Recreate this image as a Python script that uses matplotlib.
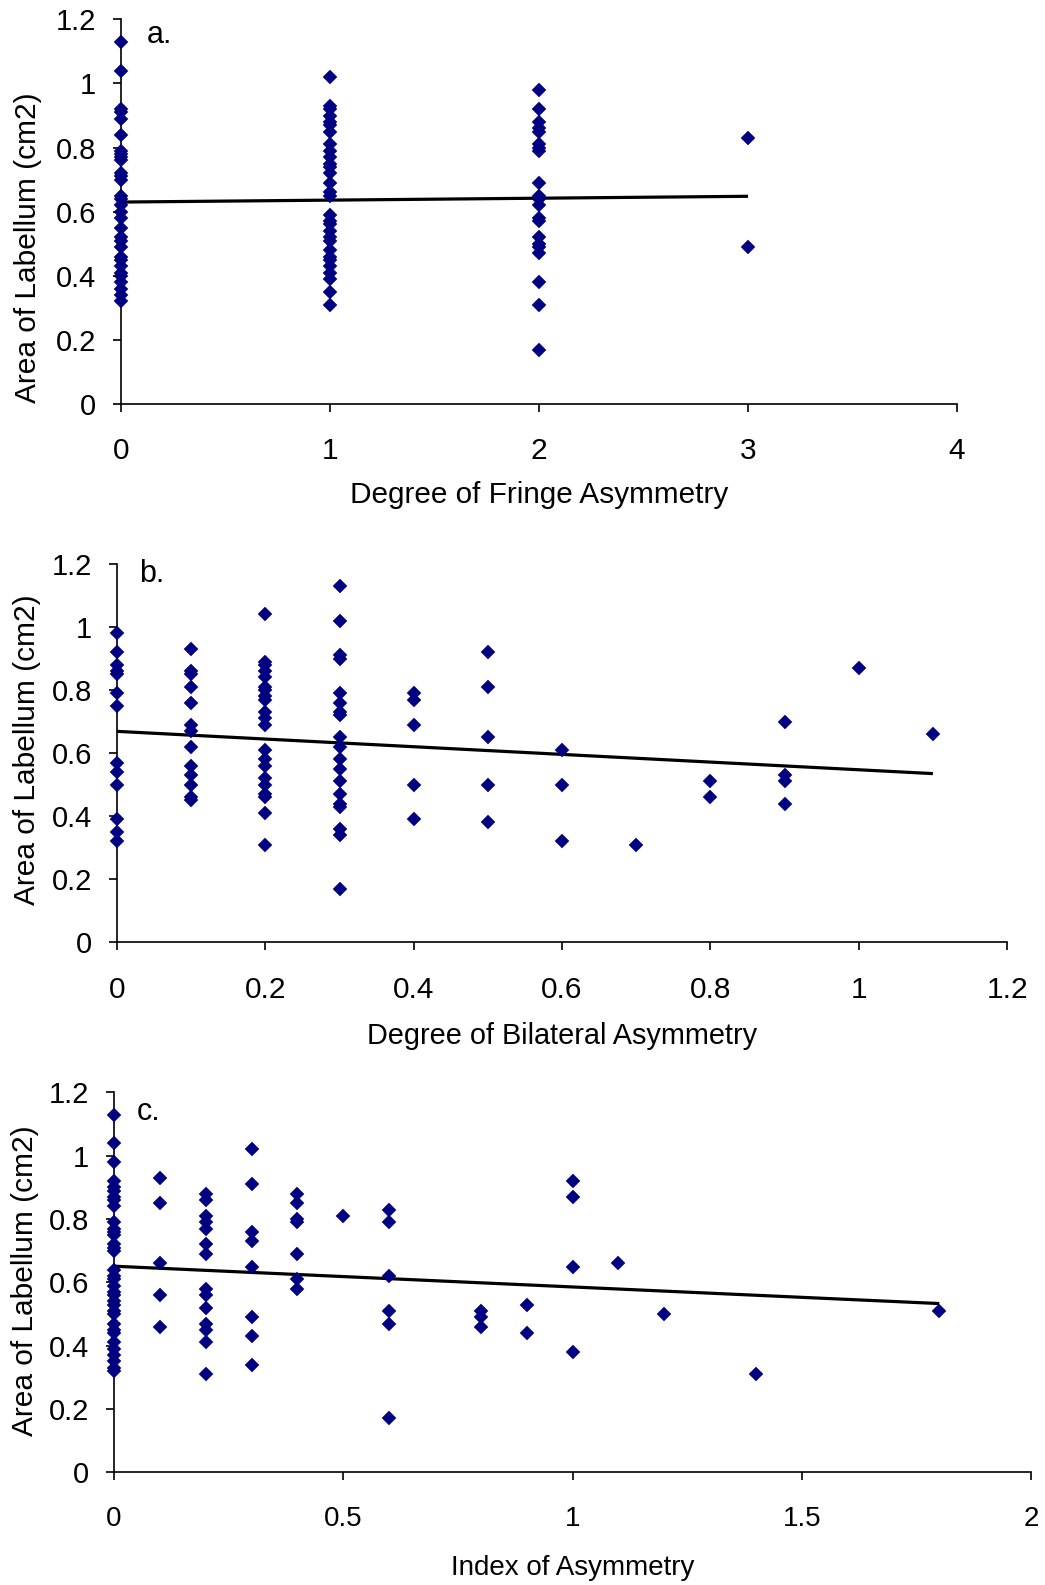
import matplotlib
matplotlib.use("Agg")
import matplotlib.pyplot as plt
from matplotlib.ticker import FixedLocator, FixedFormatter

plt.rcParams['font.family'] = ['Liberation Sans', 'DejaVu Sans']

# ---------------- data ----------------
# Panel a: Degree of Fringe Asymmetry
a_x0 = [1.13, 1.04, 0.92, 0.91, 0.89, 0.84, 0.79, 0.78, 0.77, 0.76, 0.72, 0.71, 0.70,
        0.65, 0.64, 0.62, 0.60, 0.58, 0.55, 0.52, 0.51, 0.49, 0.46, 0.45, 0.43,
        0.41, 0.40, 0.38, 0.36, 0.34, 0.32]
a_x1 = [1.02, 0.93, 0.92, 0.90, 0.88, 0.87, 0.85, 0.81, 0.79, 0.77, 0.75, 0.74, 0.72,
        0.69, 0.66, 0.65, 0.59, 0.57, 0.56, 0.54, 0.52, 0.51, 0.48, 0.46, 0.45,
        0.43, 0.41, 0.39, 0.35, 0.31]
a_x2 = [0.98, 0.92, 0.88, 0.86, 0.85, 0.81, 0.80, 0.79, 0.69, 0.65, 0.64, 0.62, 0.58,
        0.57, 0.52, 0.50, 0.49, 0.47, 0.38, 0.31, 0.17]
a_x3 = [0.83, 0.49]
a_groups = [0, 1, 2, 3]
a_trend_x = [0, 3]
a_trend_y = [0.630, 0.648]
a_xticks = [0, 1, 2, 3, 4]
a_xticklabels = ['0', '1', '2', '3', '4']

# Panel b: Degree of Bilateral Asymmetry
b_groups = [0.0, 0.1, 0.2, 0.3, 0.4, 0.5, 0.6, 0.7, 0.8, 0.9, 1.0, 1.1]
b_values = [
    [0.98, 0.92, 0.88, 0.86, 0.85, 0.79, 0.75, 0.57, 0.54, 0.50, 0.39, 0.35, 0.32],
    [0.93, 0.86, 0.85, 0.81, 0.76, 0.69, 0.67, 0.62, 0.56, 0.53, 0.50, 0.46, 0.45],
    [1.04, 0.89, 0.88, 0.86, 0.84, 0.81, 0.80, 0.78, 0.77, 0.73, 0.71, 0.69, 0.61,
     0.58, 0.56, 0.52, 0.50, 0.47, 0.46, 0.41, 0.31],
    [1.13, 1.02, 0.91, 0.90, 0.79, 0.76, 0.73, 0.72, 0.65, 0.62, 0.58, 0.55, 0.51,
     0.47, 0.44, 0.43, 0.36, 0.34, 0.17],
    [0.79, 0.77, 0.69, 0.50, 0.39],
    [0.92, 0.81, 0.65, 0.50, 0.38],
    [0.61, 0.50, 0.32],
    [0.31],
    [0.51, 0.46],
    [0.70, 0.53, 0.51, 0.44],
    [0.87],
    [0.66],
]
b_trend_x = [0, 1.1]
b_trend_y = [0.669, 0.535]
b_xticks = [0, 0.2, 0.4, 0.6, 0.8, 1.0, 1.2]
b_xticklabels = ['0', '0.2', '0.4', '0.6', '0.8', '1', '1.2']

# Panel c: Index of Asymmetry
c_groups = [0.0, 0.1, 0.2, 0.3, 0.4, 0.5, 0.6, 0.8, 0.9, 1.0, 1.1, 1.2, 1.4, 1.8]
c_values = [
    [1.13, 1.04, 0.98, 0.92, 0.90, 0.89, 0.87, 0.86, 0.84, 0.79, 0.77, 0.76, 0.75,
     0.72, 0.71, 0.70, 0.64, 0.62, 0.61, 0.59, 0.57, 0.56, 0.54, 0.53, 0.51, 0.50,
     0.47, 0.45, 0.44, 0.41, 0.39, 0.37, 0.35, 0.33, 0.32],
    [0.93, 0.85, 0.66, 0.56, 0.46],
    [0.88, 0.86, 0.81, 0.79, 0.77, 0.72, 0.69, 0.58, 0.56, 0.52, 0.47, 0.45, 0.41, 0.31],
    [1.02, 0.91, 0.76, 0.73, 0.65, 0.49, 0.43, 0.34],
    [0.88, 0.85, 0.80, 0.79, 0.69, 0.61, 0.58],
    [0.81],
    [0.83, 0.79, 0.62, 0.51, 0.47, 0.17],
    [0.51, 0.49, 0.46],
    [0.53, 0.44],
    [0.92, 0.87, 0.65, 0.38],
    [0.66],
    [0.50],
    [0.31],
    [0.51],
]
c_trend_x = [0, 1.8]
c_trend_y = [0.651, 0.533]
c_xticks = [0, 0.5, 1.0, 1.5, 2.0]
c_xticklabels = ['0', '0.5', '1', '1.5', '2']

y_ticks = [0, 0.2, 0.4, 0.6, 0.8, 1.0, 1.2]
y_ticklabels = ['0', '0.2', '0.4', '0.6', '0.8', '1', '1.2']

ylabel_text = 'Area of Labellum (cm2)'
xlabels = ['Degree of Fringe Asymmetry', 'Degree of Bilateral Asymmetry', 'Index of Asymmetry']
panel_tags = ['a.', 'b.', 'c.']

# ---------------- figure ----------------
fig = plt.figure(figsize=(10.45, 15.85), dpi=100)

positions = [
    [0.1158, 0.7451, 0.8000, 0.2427],
    [0.1120, 0.4055, 0.8517, 0.2387],
    [0.1091, 0.0711, 0.8775, 0.2397],
]
xlims = [(0, 4), (0, 1.2), (0, 2)]
xtick_sets = [(a_xticks, a_xticklabels), (b_xticks, b_xticklabels), (c_xticks, c_xticklabels)]
ylabel_pos = [(-0.094, 0.406), (-0.085, 0.508), (-0.082, 0.505)]
xlabel_y = [-0.20, -0.211, -0.218]
tag_pos = [(0.031, 0.958), (0.025, 0.973), (0.025, 0.949)]
xtick_fs = [21.5, 21.5, 20]
xlabel_fs = [21.4, 20.8, 20]

a_groups_vals = [a_x0, a_x1, a_x2, a_x3]
datasets = [
    (a_groups, a_groups_vals, a_trend_x, a_trend_y),
    (b_groups, b_values, b_trend_x, b_trend_y),
    (c_groups, c_values, c_trend_x, c_trend_y),
]

navy = '#000080'
for i, (groups, vals, tx, ty) in enumerate(datasets):
    ax = fig.add_axes(positions[i])
    xs, ys = [], []
    for g, v in zip(groups, vals):
        xs.extend([g] * len(v))
        ys.extend(v)
    ax.plot(tx, ty, color='black', lw=2.3, zorder=2, solid_capstyle='butt')
    ax.plot(xs, ys, linestyle='none', marker='D', ms=6.8, color=navy,
            mec=navy, mew=0.3, zorder=3, clip_on=False)
    ax.set_xlim(*xlims[i])
    ax.set_ylim(0, 1.2)
    xt, xl = xtick_sets[i]
    ax.xaxis.set_major_locator(FixedLocator(xt))
    ax.xaxis.set_major_formatter(FixedFormatter(xl))
    ax.yaxis.set_major_locator(FixedLocator(y_ticks))
    ax.yaxis.set_major_formatter(FixedFormatter(y_ticklabels))
    for s in ['top', 'right']:
        ax.spines[s].set_visible(False)
    for s in ['left', 'bottom']:
        ax.spines[s].set_linewidth(1.2)
        ax.spines[s].set_color('black')
    ax.tick_params(axis='both', direction='out', length=6, width=1.2, colors='black')
    ax.tick_params(axis='x', pad=18, labelsize=xtick_fs[i])
    ax.tick_params(axis='y', pad=12, labelsize=21)
    ax.set_ylabel(ylabel_text, fontsize=21.5)
    ax.yaxis.set_label_coords(*ylabel_pos[i])
    ax.set_xlabel(xlabels[i], fontsize=xlabel_fs[i])
    ax.xaxis.set_label_coords(0.5, xlabel_y[i])
    ax.text(tag_pos[i][0], tag_pos[i][1], panel_tags[i], transform=ax.transAxes,
            fontsize=22, ha='left', va='center')
    ax.patch.set_alpha(0)

fig.savefig('out.png', dpi=100, facecolor='white')
